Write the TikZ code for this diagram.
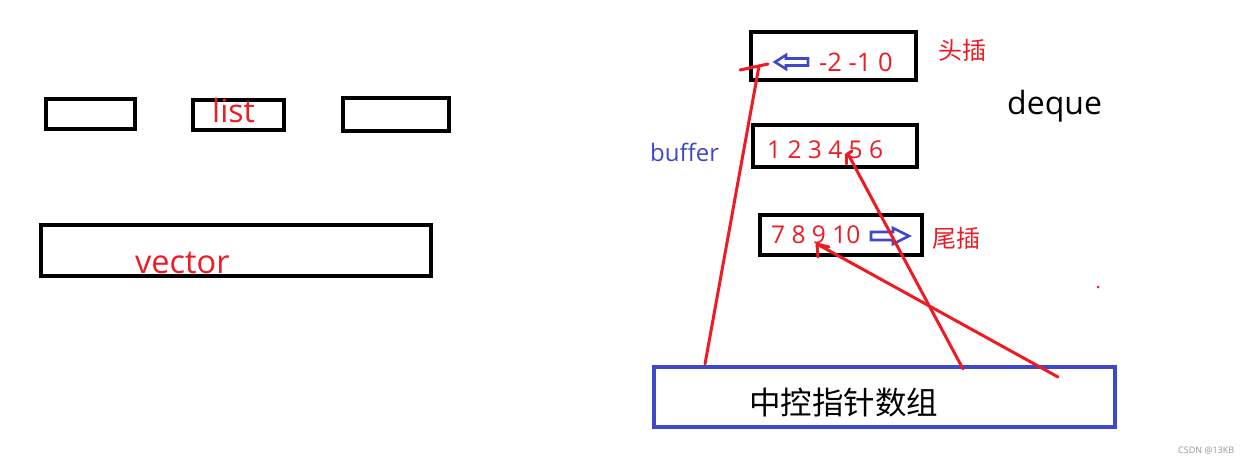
\documentclass[tikz,border=0pt]{standalone}
\usepackage{fontspec}
\setmainfont{Open Sans}
\newfontfamily\cjk{Noto Sans CJK SC}
\definecolor{pred}{RGB}{237,28,36}
\definecolor{pblue}{RGB}{63,72,204}
\definecolor{wm}{RGB}{150,150,150}
\begin{document}
\begin{tikzpicture}[x=1pt,y=-1pt,
  blk/.style={draw=black,line width=3.2pt},
  bluebox/.style={draw=pblue,line width=3.2pt},
  redline/.style={draw=pred,line width=3pt,line cap=round},
  txt/.style={inner sep=0pt,anchor=base west},
  hollow/.style={draw=pblue,line width=2.6pt,line join=miter}]
\useasboundingbox (0,0) rectangle (1256,463);
\fill[white] (0,0) rectangle (1256,463);
% left side
\draw[blk] (46,99) rectangle (135,129);
\draw[blk] (193,100) rectangle (284,130);
\draw[blk] (343,98) rectangle (449,131);
\node[txt,text=pred,font=\fontsize{32}{32}\selectfont] (list) at (212,122) {list};
\draw[blk] (41,225) rectangle (431,276);
\node[txt,text=pred,font=\fontsize{32.5}{32}\selectfont] (vector) at (135,273) {vector};
% right side boxes
\draw[blk] (751,32) rectangle (916,80);
\draw[blk] (753,125) rectangle (917,167);
\draw[blk] (760,215) rectangle (922,255);
\node[txt,text=pred,font=\fontsize{25.5}{25}\selectfont] (head) at (819,71) {-2 -1 0};
\node[txt,text=pred,font=\fontsize{24.5}{24}\selectfont] (mid) at (767,158) {1 2 3 4 5 6};
\node[txt,text=pred,font=\fontsize{24.5}{24}\selectfont] (tail) at (771,243) {7 8 9 10};
\node[txt,text=pred,font=\cjk\fontsize{24}{24}\selectfont] (tc) at (938,59) {头插};
\node[txt,text=pred,font=\cjk\fontsize{24}{24}\selectfont] (wc) at (932,247) {尾插};
\node[txt,text=black,font=\fontsize{32}{32}\selectfont] (deque) at (1007,114) {deque};
\node[txt,text=pblue,font=\fontsize{24}{24}\selectfont] (buffer) at (650,161) {buffer};
% hollow arrows
\draw[hollow] (775,62) -- (786,55) -- (786,58.5) -- (808,58.5) -- (808,65.5) -- (786,65.5) -- (786,69) -- cycle;
\draw[hollow] (909,236) -- (893,228) -- (893,232) -- (871,232) -- (871,240) -- (893,240) -- (893,244) -- cycle;
% central array
\draw[bluebox] (654,367) rectangle (1115,427);
\node[txt,text=black,font=\cjk\fontsize{31.5}{31}\selectfont] (ctrl) at (749,414) {中控指针数组};
% red pointers
\coordinate (s1) at (705,364);
\coordinate (e1) at (759,66);
\coordinate (s2) at (963,369);
\coordinate (e2) at (848,154);
\coordinate (s3) at (1058,377);
\coordinate (e3) at (817,244);
\draw[redline] (s1) -- (e1);
\draw[redline] (740,70) -- (768,64);
\draw[redline] (s2) -- (e2);
\draw[redline] (e2) ++(-2,1) -- ++(0,9);
\draw[redline] (e2) ++(-2,1) -- ++(6,-4);
\draw[redline] (s3) -- (e3);
\draw[redline] (e3) -- ++(1,13);
\draw[redline] (e3) -- ++(12,3);
\fill[pred] (1098,287) circle (1.5);
% watermark
\node[txt,text=wm,font=\fontsize{9}{9}\selectfont] (mark) at (1178,453) {CSDN @13KB};
\end{tikzpicture}
\end{document}
